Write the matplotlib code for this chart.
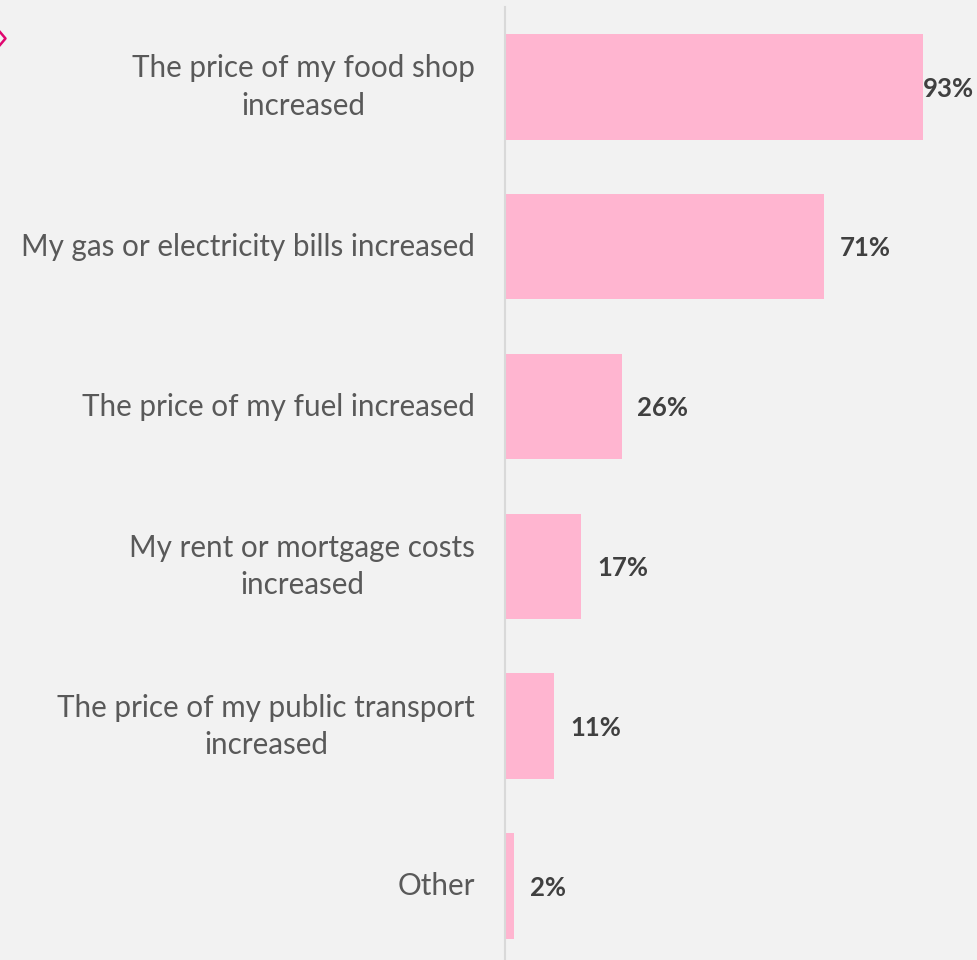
import matplotlib.pyplot as plt
from matplotlib.lines import Line2D

categories = [
    "The price of my food shop\nincreased",
    "My gas or electricity bills increased",
    "The price of my fuel increased",
    "My rent or mortgage costs\nincreased",
    "The price of my public transport\nincreased",
    "Other",
]
values = [93, 71, 26, 17, 11, 2]

bg = "#f2f2f2"
bar_color = "#ffb5d0"
label_color = "#595959"
value_color = "#404040"

plt.rcParams["font.family"] = ["Lato", "DejaVu Sans"]

fig = plt.figure(figsize=(9.77, 9.60), dpi=100, facecolor=bg)
ax = fig.add_axes([505 / 977, 0, 472 / 977, 953 / 960])
ax.set_facecolor(bg)

pos = list(range(len(values)))
ax.barh(pos, values, height=0.66, color=bar_color)
ax.set_xlim(0, 472 / 4.49)
ax.set_ylim(5.463, -0.5)

ax.set_yticks(pos)
ax.set_yticklabels(categories, fontsize=21.3, color=label_color)
for t in ax.get_yticklabels():
    t.set_multialignment("center")
    t.set_linespacing(1.4)
    t.set_verticalalignment("center")
ax.tick_params(axis="y", length=0, pad=21.6)
ax.set_xticks([])

for s in ["top", "right", "bottom"]:
    ax.spines[s].set_visible(False)
ax.spines["left"].set_color("#d9d9d9")
ax.spines["left"].set_linewidth(1.5)

# Значення біля стовпців
for i, v in enumerate(values):
    pad = 0.1 if v > 90 else 3.5
    ax.text(v + pad, i + 0.01, f"{v}%", va="center", ha="left", fontsize=18.5,
            fontweight="bold", color=value_color)

# Маленька стрілка зліва вгорі
fig.add_artist(Line2D([0, 5.5 / 977, 0], [1 - 32 / 960, 1 - 38.5 / 960, 1 - 45 / 960],
                      color="#e0066f", linewidth=1.8, transform=fig.transFigure))

plt.savefig("out.png", dpi=100, facecolor=bg)
